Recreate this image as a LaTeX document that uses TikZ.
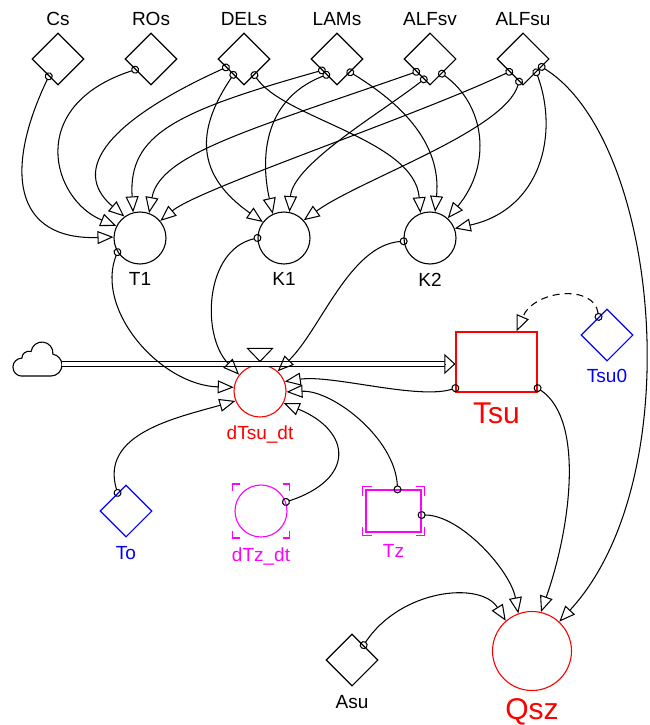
\documentclass[tikz,border=0pt]{standalone}
\usepackage{fontspec}
\setmainfont{Liberation Sans}
\usepackage{tikz}
\usetikzlibrary{arrows.meta, positioning, shapes.geometric}
\definecolor{vred}{RGB}{255,0,0}
\definecolor{vblue}{RGB}{0,0,255}
\definecolor{vmag}{RGB}{255,0,255}
\newcommand{\lblfont}{\fontsize{19}{21}\selectfont}
\newcommand{\lblbigfont}{\fontsize{30}{32}\selectfont}

\begin{document}
\begin{tikzpicture}[
  x=1pt, y=1pt,
  conv/.style={diamond, draw=#1, line width=1.1pt, minimum width=52pt,
               minimum height=52pt, inner sep=0pt},
  conv/.default=black,
  aux/.style={circle, draw=#1, line width=1.1pt, minimum size=52pt, inner sep=0pt},
  aux/.default=black,
  stock/.style={rectangle, draw=#1, line width=1.2pt, inner sep=0pt},
  lbl/.style={font=\lblfont, text=#1, inner sep=0pt},
  lbl/.default=black,
  biglbl/.style={font=\lblbigfont, text=vred, inner sep=0pt},
  link/.style={line width=1.05pt,
               {Circle[open, length=8pt]}-{Triangle[open, length=16pt, width=13pt]},
               shorten <=-4pt},
  dlink/.style={link, dash pattern=on 7pt off 5pt},
  ghost/.style={draw=vmag, line width=1.2pt},
  pipe/.style={double, double distance=3.5pt, line width=1pt}
]
  \useasboundingbox (0,0) rectangle (649,-725);

  % constants
  \node[conv] (Cs)    at (58,-59)  {};
  \node[conv] (ROs)   at (151,-59) {};
  \node[conv] (DELs)  at (244,-59) {};
  \node[conv] (LAMs)  at (337,-59) {};
  \node[conv] (ALFsv) at (430,-59) {};
  \node[conv] (ALFsu) at (523,-59) {};
  \node[lbl, above=7pt of Cs]    (Cs-l)    {Cs};
  \node[lbl, above=7pt of ROs]   (ROs-l)   {ROs};
  \node[lbl, above=7pt of DELs]  (DELs-l)  {DELs};
  \node[lbl, above=7pt of LAMs]  (LAMs-l)  {LAMs};
  \node[lbl, above=7pt of ALFsv] (ALFsv-l) {ALFsv};
  \node[lbl, above=7pt of ALFsu] (ALFsu-l) {ALFsu};

  % auxiliaries
  \node[aux] (T1) at (140,-238) {};
  \node[aux] (K1) at (284,-238) {};
  \node[aux] (K2) at (430,-238) {};
  \node[lbl, below=8pt of T1] (T1-l) {T1};
  \node[lbl, below=8pt of K1] (K1-l) {K1};
  \node[lbl, below=8pt of K2] (K2-l) {K2};

  % stock and flow
  \node[aux=vred] (dTsu) at (260,-391) {};
  \node[stock=vred, minimum width=81pt, minimum height=60pt] (Tsu) at (496.5,-362) {};
  \node[conv=vblue] (Tsu0) at (607,-335) {};
  \node[lbl=vred, below=8pt of dTsu]  (dTsu-l) {dTsu\_dt};
  \node[biglbl, below=10pt of Tsu]    (Tsu-l)  {Tsu};
  \node[lbl=vblue, below=7pt of Tsu0] (Tsu0-l) {Tsu0};

  % lower row
  \node[conv=vblue] (To) at (126,-511) {};
  \node[aux=vmag] (dTz) at (261,-511) {};
  \node[stock=vmag, minimum width=55pt, minimum height=42pt] (Tz) at (393.5,-511) {};
  \node[aux=vred, minimum size=79pt] (Qsz) at (532,-651) {};
  \node[conv] (Asu) at (352,-660) {};
  \node[lbl=vblue, below=9pt of To]   (To-l)  {To};
  \node[lbl=vmag, below=10pt of dTz]  (dTz-l) {dTz\_dt};
  \node[lbl=vmag, below=12pt of Tz]   (Tz-l)  {Tz};
  \node[biglbl, below=7pt of Qsz]     (Qsz-l) {Qsz};
  \node[lbl, below=9pt of Asu]        (Asu-l) {Asu};

  % ghost brackets
  \foreach \sx/\sy in {1/1,-1/1,1/-1,-1/-1} {
    \draw[ghost, shift={(dTz)}] (\sx*28.5,\sy*20) -- (\sx*28.5,\sy*27) -- (\sx*21.5,\sy*27);
    \draw[ghost, shift={(Tz)}] (\sx*31,\sy*15.5) -- (\sx*31,\sy*24.5) -- (\sx*22,\sy*24.5);
  }

  % cloud, pipe and valve
  \draw[line width=1.1pt] (22,-376) -- (51,-376)
    arc[start angle=-90, end angle=80, radius=11]
    arc[start angle=-6, end angle=172, radius=11]
    arc[start angle=72, end angle=180, radius=7]
    arc[start angle=90, end angle=270, radius=9] -- cycle;
  \coordinate (cloudR) at (62,-364);
  \coordinate (pipeE) at (445,-364);
  \draw[pipe] (cloudR) -- (pipeE);
  \draw[line width=1pt, -{Triangle[open, length=11pt, width=20pt]}] (pipeE) -- (Tsu.west |- pipeE);
  \draw[line width=1pt, fill=white] ([yshift=3pt]dTsu.north) -- ++(-12.5,13) -- ++(25,0) -- cycle;

  % links into T1
  \draw[link] (Cs.242)    .. controls +(-45,-94)  and +(-100,-3) .. (T1.178);
  \draw[link] (ROs.214)   .. controls +(-111,-36) and +(-64,26) .. (T1.153);
  \draw[link] (DELs.205)  .. controls +(-117,-53) and +(-55,47) .. (T1.126);
  \draw[link] (LAMs.217)  .. controls +(-146,-41) and +(-5,78)  .. (T1.105);
  \draw[link] (ALFsv.223) .. controls +(-166,-58) and +(11,59)  .. (T1.70);
  \draw[link] (ALFsu.223) .. controls +(-95,-45)  and +(38,32)  .. (T1.40);

  % links into K1
  \draw[link] (DELs.236)  .. controls +(-38,-56) and +(-67,47) .. (K1.143);
  \draw[link] (LAMs.236)  .. controls +(-67,-26) and +(-11,49) .. (K1.115);
  \draw[link] (ALFsv.253) .. controls +(-39,-31) and +(3,48)   .. (K1.78);
  \draw[link] (ALFsu.260) .. controls +(-14,-49) and +(57,41)  .. (K1.42);

  % links into K2
  \draw[link] (DELs.303)  .. controls +(30,-44) and +(-6,74) .. (K2.111);
  \draw[link] (LAMs.315)  .. controls +(44,-27) and +(7,73)  .. (K2.79);
  \draw[link] (ALFsv.309) .. controls +(43,-31) and +(45,54) .. (K2.48);
  \draw[link] (ALFsu.315) .. controls +(23,-62) and +(86,19) .. (K2.21);

  % links into dTsu_dt
  \draw[link] (T1.212) .. controls +(-23,-58) and +(-73,2)  .. (dTsu.172);
  \draw[link] (K1.180) .. controls +(-53,-12) and +(-38,39) .. (dTsu.142);
  \draw[link] (K2.187) .. controls +(-54,-4)  and +(43,42)  .. (dTsu.48);
  \draw[link] (To.115) .. controls +(-18,59)  and +(-60,-17) .. (dTsu.202);
  \draw[link] ([yshift=4.5pt]Tsu.south west) .. controls +(-37,-12) and +(47,7) .. (dTsu.21);
  \draw[link] ([xshift=4pt]Tz.north) .. controls +(-2,51) and +(46,2) .. (dTsu.358);
  \draw[link] (dTz.20) .. controls +(70,23) and +(68,-28) .. (dTsu.333);

  % links into Qsz
  \draw[link] (ALFsu.337) .. controls +(118,-73) and +(132,143) .. (Qsz.47);
  \draw[link] ([yshift=-4pt]Tz.east) .. controls +(39,0) and +(-8,43) .. (Qsz.110);
  \draw[link] ([yshift=4.5pt]Tsu.south east) .. controls +(48,-32) and +(29,82) .. (Qsz.77);
  \draw[link] (Asu.52) .. controls +(37,56) and +(-25,40) .. (Qsz.131);

  % initial value
  \draw[dlink] (Tsu0.115) .. controls +(-4,33) and +(18,42) .. ([xshift=20pt]Tsu.north);
\end{tikzpicture}
\end{document}
